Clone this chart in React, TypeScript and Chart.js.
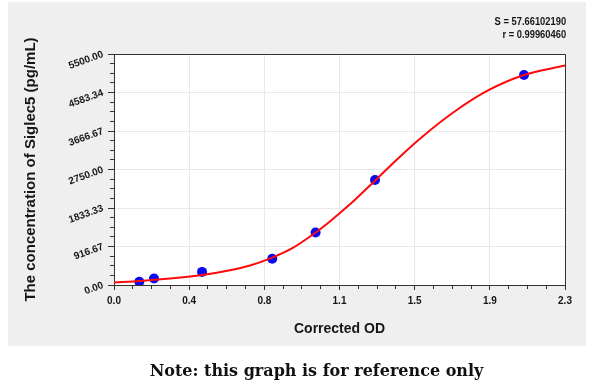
import React, { useEffect, useRef } from 'react';
import { Chart, registerables } from 'chart.js';

Chart.register(...registerables);

// Standards (measured points)
const STD_OD = [0.129, 0.204, 0.449, 0.807, 1.028, 1.331, 2.091];
const STD_CONC = [78, 156, 312, 625, 1250, 2500, 5000];

// Fitted curve
const CURVE_OD = [0, 0.133, 0.286, 0.388, 0.449, 0.592, 0.694, 0.804, 0.914, 1.03, 1.101, 1.186, 1.229, 1.331, 1.458, 1.577, 1.73, 1.9, 2.087, 2.3];
const CURVE_CONC = [60, 96, 154, 203, 240, 352, 464, 646, 889, 1255, 1513, 1849, 2030, 2484, 3056, 3550, 4108, 4615, 4995, 5225];

// Axis tick labels
const X_TICK_LABELS = ['0.0', '0.4', '0.8', '1.1', '1.5', '1.9', '2.3'];
const Y_TICK_LABELS = ['0.00', '916.67', '1833.33', '2750.00', '3666.67', '4583.34', '5500.00'];
const X_MAX = 2.3;
const Y_MAX = 5500;

const X_TITLE = 'Corrected OD';
const Y_TITLE = 'The concentration of Siglec5 (pg/mL)';
const STATS = ['S = 57.66102190', 'r = 0.99960460'];
const NOTE = 'Note: this graph is for reference only';

const SANS = '"Liberation Sans", Arial, sans-serif';
const TEXT = '#161616';
const AXIS = '#333333';
const GRID = '#e9e9e9';
const RED = '#ff0a0a';
const BLUE = '#0a0af0';
const PANEL = '#efefef';
const MINOR = 4;

const align = (v: number) => Math.round(v - 0.5) + 0.5;

const panelPlugin = {
  id: 'panel',
  beforeDraw(chart: any) {
    const { ctx, chartArea: a } = chart;
    ctx.save();
    ctx.fillStyle = PANEL;
    ctx.fillRect(8, 2, 578, 344);
    ctx.fillStyle = '#ffffff';
    ctx.fillRect(a.left, a.top, a.right - a.left, a.bottom - a.top);
    ctx.restore();
  },
  beforeDatasetsDraw(chart: any) {
    const { ctx, chartArea: a, scales } = chart;
    const x = scales.x;
    const y = scales.y;
    ctx.save();
    ctx.strokeStyle = AXIS;
    ctx.lineWidth = 1;
    ctx.beginPath();
    const xt = x.ticks.map((t: any) => t.value);
    for (let i = 0; i < xt.length - 1; i++) {
      for (let k = 1; k < MINOR; k++) {
        const v = xt[i] + ((xt[i + 1] - xt[i]) * k) / MINOR;
        const px = align(x.getPixelForValue(v));
        ctx.moveTo(px, a.bottom);
        ctx.lineTo(px, a.bottom + 4);
      }
    }
    const yt = y.ticks.map((t: any) => t.value);
    for (let i = 0; i < yt.length - 1; i++) {
      for (let k = 1; k < MINOR; k++) {
        const v = yt[i] + ((yt[i + 1] - yt[i]) * k) / MINOR;
        const py = align(y.getPixelForValue(v));
        ctx.moveTo(a.left, py);
        ctx.lineTo(a.left - 4, py);
      }
    }
    // top and right frame lines
    const t = align(a.top);
    const r = align(a.right);
    ctx.moveTo(align(a.left), t);
    ctx.lineTo(r, t);
    ctx.lineTo(r, align(a.bottom));
    ctx.stroke();
    ctx.restore();
  },
};

export default function App() {
  const ref = useRef<HTMLCanvasElement>(null);

  useEffect(() => {
    const canvas = ref.current;
    if (!canvas) return;
    const chart = new Chart(canvas, {
      type: 'scatter',
      data: {
        datasets: [
          {
            label: 'Fitted curve',
            data: CURVE_OD.map((v, i) => ({ x: v, y: CURVE_CONC[i] })),
            showLine: true,
            borderColor: RED,
            borderWidth: 2,
            pointRadius: 0,
            cubicInterpolationMode: 'monotone',
            fill: false,
          } as any,
          {
            label: 'Standards',
            data: STD_OD.map((v, i) => ({ x: v, y: STD_CONC[i] })),
            showLine: false,
            pointRadius: 5,
            pointBackgroundColor: BLUE,
            pointBorderWidth: 0,
          } as any,
        ],
      },
      options: {
        responsive: false,
        animation: false,
        devicePixelRatio: 1,
        events: [],
        layout: { padding: { left: 8, right: 35, top: 54, bottom: 42 } },
        plugins: { legend: { display: false }, tooltip: { enabled: false } },
        scales: {
          x: {
            type: 'linear',
            position: 'bottom',
            min: 0,
            max: X_MAX,
            afterBuildTicks: (s: any) => {
              s.ticks = X_TICK_LABELS.map((_, i) => ({ value: (X_MAX * i) / (X_TICK_LABELS.length - 1) }));
            },
            afterFit: (s: any) => {
              s.height = 61;
            },
            ticks: {
              autoSkip: false,
              minRotation: 0,
              maxRotation: 0,
              padding: 5,
              color: TEXT,
              font: { family: SANS, size: 10, weight: 'bold' },
              callback: (_v: any, i: number) => X_TICK_LABELS[i],
            },
            grid: { color: GRID, lineWidth: 1, drawTicks: true, tickLength: 5, tickColor: AXIS, tickWidth: 1 },
            border: { display: true, color: AXIS, width: 1 },
            title: {
              display: true,
              text: X_TITLE,
              color: TEXT,
              font: { family: SANS, size: 14, weight: 'bold' },
              padding: { top: 0, bottom: 8 },
            },
          } as any,
          y: {
            type: 'linear',
            position: 'left',
            min: 0,
            max: Y_MAX,
            afterBuildTicks: (s: any) => {
              s.ticks = Y_TICK_LABELS.map((_, i) => ({ value: (Y_MAX * i) / (Y_TICK_LABELS.length - 1) }));
            },
            afterFit: (s: any) => {
              s.width = 106;
            },
            ticks: {
              autoSkip: false,
              minRotation: 20,
              maxRotation: 20,
              padding: 5,
              color: TEXT,
              font: { family: SANS, size: 10, weight: 'bold' },
              callback: (_v: any, i: number) => Y_TICK_LABELS[i],
            },
            grid: { color: GRID, lineWidth: 1, drawTicks: true, tickLength: 6, tickColor: AXIS, tickWidth: 1 },
            border: { display: true, color: AXIS, width: 1 },
            title: {
              display: true,
              text: Y_TITLE,
              color: TEXT,
              font: { family: SANS, size: 15, weight: 'bold' },
              padding: { top: 14, bottom: 0 },
            },
          } as any,
        },
      },
      plugins: [panelPlugin],
    });
    return () => chart.destroy();
  }, []);

  return (
    <div style={{ position: 'fixed', left: 0, top: 0, width: 600, height: 388, background: '#ffffff' }}>
      <canvas ref={ref} width={600} height={388} style={{ display: 'block', width: 600, height: 388 }} />
      <div
        style={{
          position: 'absolute',
          right: 34,
          top: 14.7,
          textAlign: 'right',
          fontFamily: SANS,
          fontSize: 11,
          fontWeight: 'bold',
          lineHeight: '13.5px',
          color: TEXT,
        }}
      >
        {STATS.map((s) => (
          <div key={s} style={{ whiteSpace: 'nowrap', transform: 'scaleX(0.85)', transformOrigin: 'right center' }}>
            {s}
          </div>
        ))}
      </div>
      <div
        style={{
          position: 'absolute',
          left: 0,
          width: 633,
          top: 363,
          textAlign: 'center',
          fontFamily: '"DejaVu Serif", "Liberation Serif", serif',
          fontWeight: 'bold',
          fontSize: 16,
          lineHeight: '16px',
          color: '#111111',
          whiteSpace: 'nowrap',
        }}
      >
        {NOTE}
      </div>
    </div>
  );
}
